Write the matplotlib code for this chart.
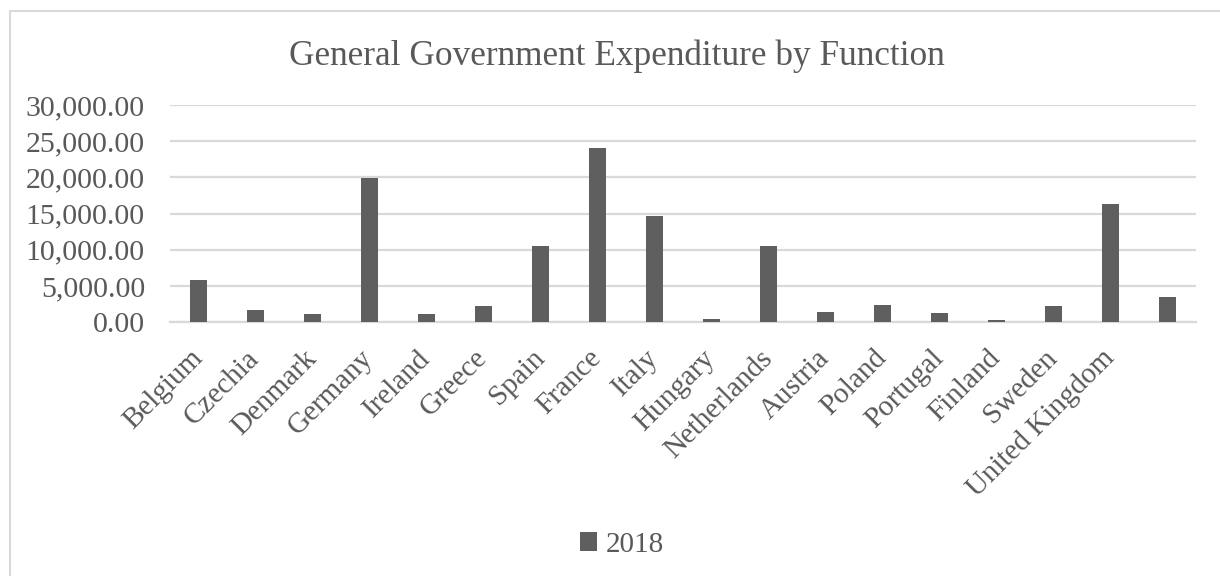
import matplotlib
matplotlib.use("Agg")
import matplotlib.pyplot as plt
from matplotlib.patches import Rectangle
from matplotlib.ticker import FuncFormatter

countries = ["Belgium", "Czechia", "Denmark", "Germany", "Ireland", "Greece",
             "Spain", "France", "Italy", "Hungary", "Netherlands", "Austria",
             "Poland", "Portugal", "Finland", "Sweden", "United Kingdom", ""]
values_2018 = [5800, 1740, 1110, 19950, 1110, 2300, 10550, 24050, 14740,
               500, 10550, 1380, 2350, 1290, 360, 2250, 16350, 3460]

text_grey = "#595959"
bar_grey = "#5f5f5f"
grid_grey = "#d9d9d9"

plt.rcParams["font.family"] = ["Liberation Serif", "DejaVu Serif"]

fig = plt.figure(figsize=(12.2, 5.76), dpi=100)
ax = fig.add_axes([0.1393, 0.4405, 0.841, 0.3772])

x = range(len(countries))
bars = ax.bar(x, values_2018, width=0.31, color=bar_grey, label="2018", zorder=3)

ax.set_xlim(-0.5, len(countries) - 0.5)
ax.set_ylim(0, 30000)
ax.set_yticks(range(0, 30001, 5000))
ax.yaxis.set_major_formatter(FuncFormatter(lambda v, p: f"{v:,.2f}"))
ax.grid(axis="y", color=grid_grey, linewidth=1.6, zorder=0)

ax.set_xticks(list(x))
ax.set_xticklabels(countries, rotation=45, ha="right", va="center",
                   rotation_mode="anchor", fontsize=21, color=text_grey)
ax.tick_params(axis="x", length=0, pad=23)
ax.tick_params(axis="y", length=0, pad=18, labelsize=21.5, labelcolor=text_grey)

for side in ["top", "right", "left"]:
    ax.spines[side].set_visible(False)
ax.spines["bottom"].set_color(grid_grey)
ax.spines["bottom"].set_linewidth(1.6)

fig.text(0.506, 0.902, "General Government Expenditure by Function",
         ha="center", va="center", fontsize=25.4, color=text_grey)

fig.legend(handles=[bars], labels=["2018"], loc="center", bbox_to_anchor=(0.51, 0.054),
           frameon=False, fontsize=21, labelcolor=text_grey, handlelength=0.6,
           handleheight=0.6, handletextpad=0.3)

# chart area outline
fig.patches.append(Rectangle((10 / 1220, -0.05), 1.1, 1 - 11 / 576 + 0.05,
                             transform=fig.transFigure, fill=False,
                             edgecolor=grid_grey, linewidth=1.5))

fig.savefig("out.png", dpi=100)
